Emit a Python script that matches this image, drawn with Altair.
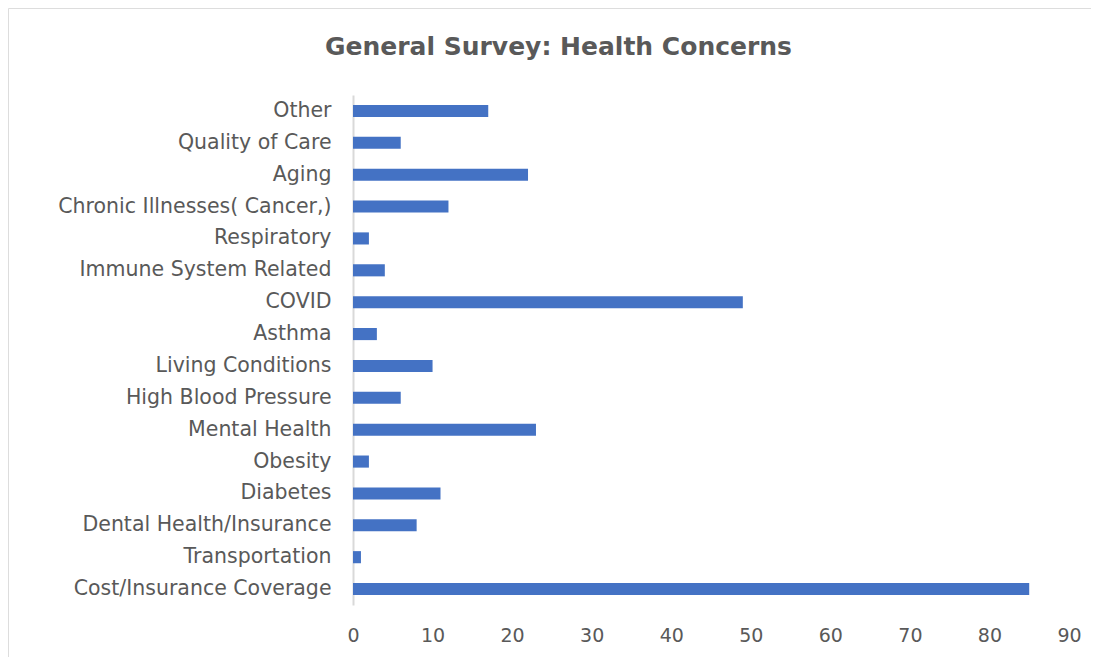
import altair as alt
import pandas as pd

categories = [
    "Other", "Quality of Care", "Aging", "Chronic Illnesses( Cancer,)",
    "Respiratory", "Immune System Related", "COVID", "Asthma",
    "Living Conditions\u00a0", "High Blood Pressure", "Mental Health", "Obesity",
    "Diabetes", "Dental Health/Insurance", "Transportation", "Cost/Insurance Coverage",
]
values = [17, 6, 22, 12, 2, 4, 49, 3, 10, 6, 23, 2, 11, 8, 1, 85]
x_ticks = [0, 10, 20, 30, 40, 50, 60, 70, 80, 90]

df = pd.DataFrame({"category": categories, "value": values})

W, H = 1083, 649
FONT = "DejaVu Sans"
GRAY = "#595959"

chart = alt.Chart(df).mark_bar(color="#4472C4").encode(
    x=alt.X(
        "value:Q",
        scale=alt.Scale(domain=[0, 90], range=[345, 1061], nice=False),
        axis=alt.Axis(
            values=x_ticks, title=None, grid=False, domain=False, ticks=False,
            offset=-40, labelPadding=9, labelFontSize=19, labelColor=GRAY,
            labelFont=FONT, labelFlush=False,
        ),
    ),
    y=alt.Y(
        "category:N",
        sort=categories,
        scale=alt.Scale(range=[87, 597], paddingInner=0.62, paddingOuter=0.31),
        axis=alt.Axis(
            title=None, ticks=False, domain=True, domainColor="#d9d9d9",
            domainWidth=2, offset=-345, labelPadding=22, labelFontSize=20.5,
            labelColor=GRAY, labelFont=FONT, labelLimit=400,
        ),
    ),
).properties(
    width=W,
    height=H,
    title=alt.TitleParams(
        "General Survey: Health Concerns",
        offset=-52, fontSize=25, fontWeight="bold", color=GRAY, font=FONT,
        anchor="middle", dx=9,
    ),
).configure_view(
    stroke="#d9d9d9", strokeWidth=2
).configure(padding=0)

chart.save("out.html", embed_options={"renderer": "svg", "actions": False})
